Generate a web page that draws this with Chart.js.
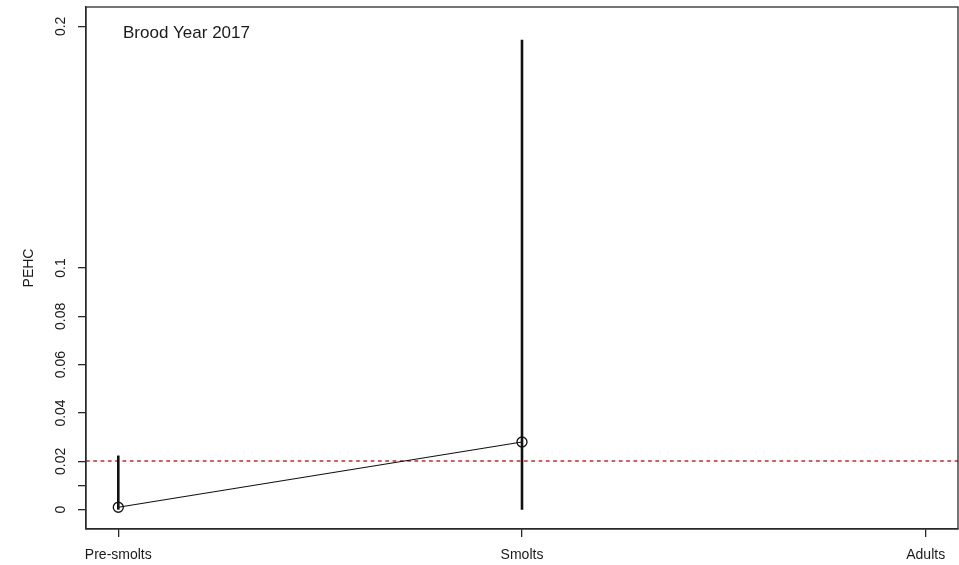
<!DOCTYPE html>
<html>
<head>
<meta charset="utf-8">
<script src="https://cdn.jsdelivr.net/npm/chart.js@4.4.1/dist/chart.umd.min.js"></script>
<style>
  html, body { margin: 0; padding: 0; background: #ffffff; overflow: hidden; }
  canvas { display: block; }
</style>
</head>
<body>
<canvas id="chart" width="959" height="565"></canvas>
<script>
// Life stages along the x axis
const stages = ['Pre-smolts', 'Smolts', 'Adults'];
// Point estimates of PEHC per stage (no estimate for adults)
const pehc = [0.001, 0.028, null];
// Interval bounds per stage
const ciLower = [0, 0, null];
const ciUpper = [0.0224, 0.1945, null];
// Reference threshold
const threshold = 0.02;
// Y axis tick positions and their printed labels
const yTickValues = [0, 0.01, 0.02, 0.04, 0.06, 0.08, 0.1, 0.2];
const yTickLabels = ['0', '', '0.02', '0.04', '0.06', '0.08', '0.1', '0.2'];
const panelTitle = 'Brood Year 2017';

const FONT = 'Arial, "Liberation Sans", Helvetica, sans-serif';
const INK = '#1a1a1a';

const points = stages.map((s, i) => ({ x: i + 1, y: pehc[i] }));

const framePlugin = {
  id: 'frame',
  beforeDatasetsDraw(chart) {
    const { ctx, chartArea: a, scales: { x, y } } = chart;
    ctx.save();
    // dashed threshold line
    const ty = Math.round(y.getPixelForValue(threshold));
    ctx.strokeStyle = '#d45c5c';
    ctx.lineWidth = 2;
    ctx.setLineDash([3.7, 3.6]);
    ctx.beginPath();
    ctx.moveTo(a.left, ty);
    ctx.lineTo(a.right, ty);
    ctx.stroke();
    ctx.setLineDash([]);
    // interval bars
    ctx.strokeStyle = '#111';
    ctx.lineWidth = 2.6;
    ctx.lineCap = 'butt';
    stages.forEach((s, i) => {
      if (ciLower[i] == null || ciUpper[i] == null) return;
      const px = x.getPixelForValue(i + 1);
      ctx.beginPath();
      ctx.moveTo(px, y.getPixelForValue(ciLower[i]));
      ctx.lineTo(px, y.getPixelForValue(ciUpper[i]));
      ctx.stroke();
    });
    ctx.restore();
  },
  afterDraw(chart) {
    const { ctx, chartArea: a } = chart;
    ctx.save();
    // plot box
    ctx.strokeStyle = '#2a2a2a';
    ctx.lineWidth = 1.3;
    ctx.strokeRect(a.left, a.top, a.right - a.left, a.bottom - a.top);
    // panel label
    ctx.fillStyle = INK;
    ctx.font = '17px ' + FONT;
    ctx.textAlign = 'left';
    ctx.textBaseline = 'alphabetic';
    ctx.fillText(panelTitle, a.left + 37, a.top + 31);
    ctx.restore();
  }
};

new Chart(document.getElementById('chart'), {
  type: 'line',
  data: {
    datasets: [{
      data: points,
      borderColor: '#111',
      borderWidth: 1.2,
      pointStyle: 'circle',
      pointRadius: 5,
      pointBorderColor: '#111',
      pointBorderWidth: 1.3,
      pointBackgroundColor: 'rgba(0,0,0,0)',
      tension: 0,
      spanGaps: false
    }]
  },
  options: {
    responsive: false,
    maintainAspectRatio: false,
    animation: false,
    devicePixelRatio: 1,
    layout: { autoPadding: false, padding: { top: 7, right: 1, left: 0, bottom: 0 } },
    plugins: {
      legend: { display: false },
      tooltip: { enabled: false },
      title: { display: false }
    },
    scales: {
      x: {
        type: 'linear',
        min: 0.92,
        max: 3.08,
        afterBuildTicks: (scale) => { scale.ticks = stages.map((s, i) => ({ value: i + 1 })); },
        afterFit: (scale) => {
          scale.height = 36;
          scale.paddingLeft = 0;
          scale.paddingRight = 0;
        },
        ticks: {
          callback: (v) => stages[Math.round(v) - 1] ?? '',
          autoSkip: false,
          maxRotation: 0,
          minRotation: 0,
          padding: 10,
          color: INK,
          font: { family: FONT, size: 14 }
        },
        grid: { drawOnChartArea: false, drawTicks: true, tickLength: 8, color: '#2a2a2a', lineWidth: 1.3 },
        border: { display: true, color: '#2a2a2a', width: 1.3 }
      },
      y: {
        type: 'linear',
        min: -0.008,
        max: 0.208,
        afterBuildTicks: (scale) => { scale.ticks = yTickValues.map(v => ({ value: v })); },
        afterFit: (scale) => {
          scale.width = 86;
          scale.paddingTop = 0;
          scale.paddingBottom = 0;
        },
        ticks: {
          callback: (v) => {
            const k = yTickValues.findIndex(t => Math.abs(t - v) < 1e-9);
            return k >= 0 ? yTickLabels[k] : '';
          },
          autoSkip: false,
          minRotation: 90,
          maxRotation: 90,
          crossAlign: 'center',
          padding: 3,
          color: INK,
          font: { family: FONT, size: 14 }
        },
        title: {
          display: true,
          text: 'PEHC',
          color: INK,
          font: { family: FONT, size: 14 },
          padding: { top: 21, bottom: 0 }
        },
        grid: { drawOnChartArea: false, drawTicks: true, tickLength: 8, color: '#2a2a2a', lineWidth: 1.3 },
        border: { display: true, color: '#2a2a2a', width: 1.3 }
      }
    }
  },
  plugins: [framePlugin]
});
</script>
</body>
</html>
